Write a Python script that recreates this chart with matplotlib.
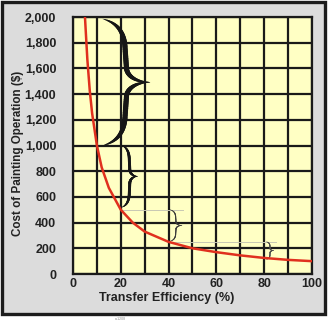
import matplotlib
matplotlib.use("Agg")
import numpy as np
import matplotlib.pyplot as plt
from matplotlib.patches import Rectangle
from matplotlib.collections import LineCollection

# values
efficiency = [5, 6, 7, 8, 10, 12, 15, 20, 25, 30, 40, 50, 60, 70, 80, 90, 100]
cost = [2000, 1670, 1430, 1250, 1000, 830, 670, 500, 400, 330, 250, 200, 170, 145, 125, 110, 100]
x_ticks = [0, 20, 40, 60, 80, 100]
y_ticks = [0, 200, 400, 600, 800, 1000, 1200, 1400, 1600, 1800, 2000]
y_ticklabels = [f"{v:,}" for v in y_ticks]

plt.rcParams["font.family"] = ["Liberation Sans", "DejaVu Sans"]

fig = plt.figure(figsize=(3.28, 3.21), dpi=100)
fig.patch.set_facecolor("white")

# gray panel with dark border
panel = Rectangle((0.006, 0.022), 0.985, 0.972, transform=fig.transFigure,
                  facecolor="#dcdcdc", edgecolor="#1c1c1c", linewidth=2.4, zorder=-1)
fig.patches.append(panel)
fig.text(0.35, 0.003, "a-1208", fontsize=2.5, color="#888888")

ax = fig.add_axes([0.2226, 0.1464, 0.7284, 0.8006])
ax.set_zorder(2)
ax.set_facecolor("#ffffc4")

ax.plot(efficiency, cost, color="#e0301e", lw=1.8, zorder=4)

# faint guide lines
ax.plot([20, 46], [500, 500], color="#c8c8b4", lw=0.7, zorder=3)
ax.plot([40, 85], [250, 250], color="#c8c8b4", lw=0.7, zorder=3)


def bez(p0, p1, p2, p3, n=30):
    t = np.linspace(0, 1, n)[:, None]
    p0, p1, p2, p3 = map(np.array, (p0, p1, p2, p3))
    return (1 - t) ** 3 * p0 + 3 * (1 - t) ** 2 * t * p1 + 3 * (1 - t) * t ** 2 * p2 + t ** 3 * p3


def brace(x0, x1, y0, y1, wmax, color):
    # upper half of a "}" in unit box, from top end to tip
    a = bez((0, 1), (0.3, 0.97), (0.45, 0.9), (0.47, 0.78))
    b = bez((0.47, 0.78), (0.48, 0.72), (0.49, 0.67), (0.5, 0.62), 10)
    c = bez((0.5, 0.62), (0.5, 0.55), (0.7, 0.5), (1, 0.5))
    top = np.vstack([a, b[1:], c[1:]])
    bottom = top[::-1].copy()
    bottom[:, 1] = 1 - bottom[:, 1]
    for half in (top, bottom[::-1]):
        n = len(half)
        s = np.linspace(0, 1, n - 1)
        w = 0.3 + wmax * np.sin(np.pi * s) ** 0.8
        xs = x0 + half[:, 0] * (x1 - x0)
        ys = y0 + half[:, 1] * (y1 - y0)
        pts = np.column_stack([xs, ys])
        segs = np.stack([pts[:-1], pts[1:]], axis=1)
        lc = LineCollection(segs, linewidths=w, colors=color, capstyle="round", zorder=3)
        ax.add_collection(lc)


brace(12.5, 32.2, 1000, 1985, 3.4, "#161616")
brace(20.5, 27, 520, 1000, 1.8, "#161616")
brace(40.6, 45.6, 255, 500, 0.5, "#3a3a3a")
brace(81, 84, 115, 250, 0.4, "#4a4a4a")

ax.set_xlim(0, 100)
ax.set_ylim(0, 2000)
ax.set_xticks(x_ticks)
ax.set_xticks(range(0, 101, 10), minor=True)
ax.set_yticks(y_ticks)
ax.set_yticklabels(y_ticklabels)
ax.grid(True, which="both", color="#1a1a1a", lw=1.6, zorder=2)
ax.set_axisbelow(True)
ax.tick_params(which="both", length=0)
ax.tick_params(axis="y", pad=12, labelsize=9, labelcolor="#222222")
ax.tick_params(axis="x", pad=3, labelsize=9, labelcolor="#222222")
for lab in ax.get_xticklabels() + ax.get_yticklabels():
    lab.set_fontweight("bold")
for s in ax.spines.values():
    s.set_color("#1a1a1a")
    s.set_linewidth(1.6)

ax.set_xlabel("Transfer Efficiency (%)", fontsize=9, fontweight="bold", color="#222222")
ax.set_ylabel("Cost of Painting Operation ($)", fontsize=8.4, fontweight="bold", color="#222222",
              family=["Liberation Sans Narrow", "Liberation Sans"])
ax.xaxis.set_label_coords(0.393, -0.07)
ax.yaxis.set_label_coords(-0.205, 0.47)

fig.savefig("out.png", dpi=100)
